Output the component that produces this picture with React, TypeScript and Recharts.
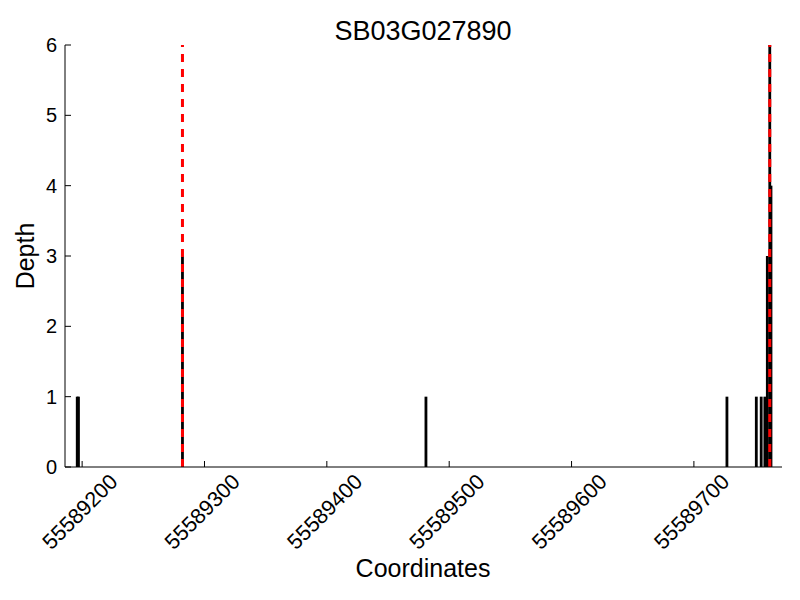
import React from "react";
import { Bar, BarChart, ReferenceLine, XAxis, YAxis } from "recharts";

const coords = [
  55589196, 55589197, 55589282, 55589481, 55589727, 55589751, 55589755,
  55589758, 55589760, 55589762, 55589763,
];
const depths = [1, 1, 3, 1, 1, 1, 1, 1, 3, 6, 4];
const markers = [55589282, 55589762];
const xTicks = [55589200, 55589300, 55589400, 55589500, 55589600, 55589700];
const yTicks = [0, 1, 2, 3, 4, 5, 6];

const FONT = "'Liberation Sans', Arial, sans-serif";

const data = coords.map((c, i) => ({ coord: c, depth: depths[i] }));

function XTick(props: any) {
  const { x, y, payload } = props;
  return (
    <text
      transform={`translate(${x - 2},${y + 45}) rotate(-45)`}
      textAnchor="middle"
      dominantBaseline="central"
      fontSize={21.5}
      fontFamily={FONT}
      fill="#000"
    >
      {payload.value}
    </text>
  );
}

function Spike(props: any) {
  const { x, y, width, height } = props;
  if (!height) return null;
  const cx = x + width / 2;
  return <rect x={cx - 1.4} y={y} width={2.8} height={height} fill="#000" />;
}

export default function App() {
  return (
    <div style={{ position: "absolute", left: 0, top: 0, width: 800, height: 600, background: "#fff" }}>
      <BarChart
        width={800}
        height={600}
        data={data}
        margin={{ top: 45, right: 18, left: 0, bottom: 0 }}
      >
        <XAxis
          type="number"
          dataKey="coord"
          domain={[55589186, 55589772]}
          allowDataOverflow
          ticks={xTicks}
          height={133}
          stroke="#000"
          tickSize={-6}
          tickMargin={6}
          tick={<XTick />}
        />
        <YAxis
          type="number"
          domain={[0, 6]}
          ticks={yTicks}
          width={65}
          stroke="#000"
          tickSize={-6}
          tickMargin={14}
          tick={{ fill: "#000", fontSize: 20, fontFamily: FONT }}
        />
        <Bar dataKey="depth" shape={<Spike />} isAnimationActive={false} />
        {markers.map((m) => (
          <ReferenceLine
            key={m}
            x={m}
            stroke="#ff0000"
            strokeWidth={3}
            strokeDasharray="8 7"
          />
        ))}
      </BarChart>
      <svg
        width={800}
        height={600}
        style={{ position: "absolute", left: 0, top: 0, pointerEvents: "none" }}
      >
        <text x={423} y={40} textAnchor="middle" fontSize={27} fontFamily={FONT} fill="#000">
          SB03G027890
        </text>
        <text x={423} y={577} textAnchor="middle" fontSize={25} fontFamily={FONT} fill="#000">
          Coordinates
        </text>
        <text
          transform="translate(34,256) rotate(-90)"
          textAnchor="middle"
          fontSize={25}
          fontFamily={FONT}
          fill="#000"
        >
          Depth
        </text>
      </svg>
    </div>
  );
}
